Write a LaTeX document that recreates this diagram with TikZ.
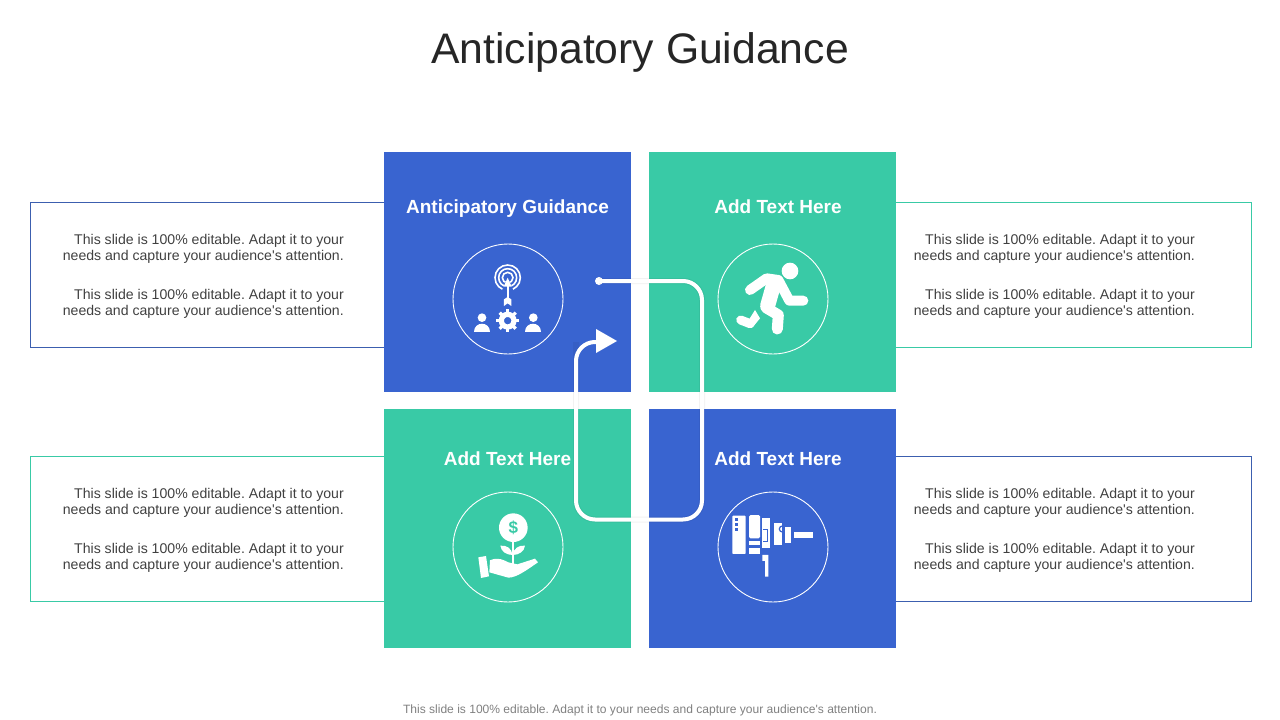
\documentclass[tikz,border=0pt]{standalone}
\usepackage{fontspec}
\setmainfont{Liberation Sans}[Ligatures=TeXOff]
\usetikzlibrary{calc,arrows.meta}
\definecolor{panelblue}{RGB}{57,100,208}
\definecolor{panelgreen}{RGB}{57,202,166}
\definecolor{edgeblue}{RGB}{60,95,175}
\definecolor{bodytext}{RGB}{64,64,64}
\definecolor{titletext}{RGB}{38,38,38}
\definecolor{footgrey}{RGB}{128,128,128}
\tikzset{
  panelbox/.style={fill=#1,draw=none,anchor=north west,minimum width=247,inner sep=0},
  notebox/.style={draw=#1,line width=0.9pt},
  panelhead/.style={font=\fontsize{19}{23}\selectfont\bfseries,text=white,anchor=base},
  notetext/.style={font=\fontsize{14.1}{16}\selectfont,text=bodytext,align=right,anchor=east,inner sep=0},
  iconring/.style={draw=white,line width=0.9pt},
  iconline/.style={draw=white,line cap=round,line join=round},
  flowline/.style={draw=white,line width=4pt},
  flowshade/.style={draw=black,opacity=0.05,line width=6pt},
}
% corner coordinates are in reference pixels
\newcommand{\notepair}[3]{%
  \node[notetext] (#1a) at (#2,#3) {This slide is 100\% editable. Adapt it to your\\needs and capture your audience's attention.};
  \node[notetext] (#1b) at (#2,#3+55) {This slide is 100\% editable. Adapt it to your\\needs and capture your audience's attention.};}
\begin{document}
\frenchspacing
\begin{tikzpicture}[x=1pt,y=-1pt]
  \useasboundingbox (0,0) rectangle (1280,720);
  \node[font=\fontsize{42.7}{50}\selectfont,text=titletext] (title) at (640,52) {Anticipatory Guidance};
  % side boxes
  \draw[notebox=edgeblue] (385,202.5) -- (30.5,202.5) -- (30.5,347.5) -- (385,347.5);
  \draw[notebox=panelgreen] (895,202.5) -- (1251.5,202.5) -- (1251.5,347.5) -- (895,347.5);
  \draw[notebox=panelgreen] (385,456.5) -- (30.5,456.5) -- (30.5,601.5) -- (385,601.5);
  \draw[notebox=edgeblue] (895,456.5) -- (1251.5,456.5) -- (1251.5,601.5) -- (895,601.5);
  \notepair{nw}{344}{249}
  \notepair{ne}{1195}{249}
  \notepair{sw}{344}{503}
  \notepair{se}{1195}{503}
  % panels
  \node[panelbox=panelblue,minimum height=240] (pnw) at (384,152) {};
  \node[panelbox=panelgreen,minimum height=240] (pne) at (649,152) {};
  \node[panelbox=panelgreen,minimum height=239] (psw) at (384,409) {};
  \node[panelbox=panelblue,minimum height=239] (pse) at (649,409) {};
  \node[panelhead] (hnw) at (507.5,213) {Anticipatory Guidance};
  \node[panelhead] (hne) at (778,213) {Add Text Here};
  \node[panelhead] (hsw) at (507.5,465) {Add Text Here};
  \node[panelhead] (hse) at (778,465) {Add Text Here};
  \draw[iconring] (508,299) circle (55);
  \draw[iconring] (773,299) circle (55);
  \draw[iconring] (508,547) circle (55);
  \draw[iconring] (773,547) circle (55);
  % target and team
  \begin{scope}[shift={(440,235)},x=0.3333pt,y=-0.3333pt]
    \draw[white,line width=1.6pt] (203,128) circle (38);
    \draw[white,line width=1.6pt] (203,128) circle (27);
    \draw[white,line width=1.6pt] (203,128) circle (16);
    \fill[panelblue] (203,128) -- (182,175) -- (224,175) -- cycle;
    \draw[white,line width=1.8pt] (203,150) -- (203,195);
    \fill[white] (203,128) -- (215,155) -- (191,155) -- cycle;
    \fill[white] (192,213) -- (192,193) -- (203,186) -- (214,193) -- (214,213) -- (203,205) -- cycle;
    \fill[white] (126,248) circle (13);
    \fill[white] (102,290) .. controls (102,258) and (150,258) .. (150,290) -- cycle;
    \fill[white] (280,248) circle (13);
    \fill[white] (256,290) .. controls (256,258) and (304,258) .. (304,290) -- cycle;
    \foreach \a in {0,45,...,315}{\draw[white,line width=3.2pt] (203,257) ++(\a:22) -- ++(\a:12);}
    \draw[white,line width=5.2pt] (203,257) circle (19);
  \end{scope}
  % runner
  \begin{scope}[shift={(700,235)},x=0.3333pt,y=-0.3333pt]
    \fill[white] (270,108) circle (25);
    \draw[iconline,line width=10pt] (150,165) -- (200,130) -- (235,135) -- (268,197) -- (310,197);
    \draw[iconline,line width=15pt] (222,145) -- (203,212);
    \draw[iconline,line width=11pt] (198,218) -- (235,240) -- (232,282);
    \draw[iconline,line width=9pt] (122,255) -- (150,266);
    \fill[white] (137,270) -- (165,225) -- (180,250) -- (158,277) -- cycle;
  \end{scope}
  % money plant on hand
  \begin{scope}[shift={(440,485)},x=0.3333pt,y=-0.3333pt]
    \fill[white] (220,128) circle (43);
    \node[text=panelgreen,font=\fontsize{17}{17}\selectfont\bfseries] (dollar) at (220,128) {\$};
    \draw[iconline,line width=2pt] (218,165) -- (218,238);
    \fill[white] (218,210) .. controls (200,210) and (183,200) .. (181,182) .. controls (200,180) and (215,190) .. (218,210) -- cycle;
    \fill[white] (218,210) .. controls (236,210) and (253,200) .. (255,182) .. controls (236,180) and (221,190) .. (218,210) -- cycle;
    \fill[white] (115,217) -- (138,213) -- (147,274) -- (123,279) -- cycle;
    \fill[white] (150,226) .. controls (175,215) and (190,225) .. (205,232) -- (232,238) -- (285,221) -- (294,232) .. controls (260,255) and (230,278) .. (205,278) -- (148,262) -- cycle;
  \end{scope}
  % drill
  \begin{scope}[shift={(705,485)},x=0.3333pt,y=-0.3333pt]
    \fill[white,rounded corners=0.8pt] (82,92) rectangle (122,207);
    \foreach \dy in {103,118,133}{\fill[panelblue] (90,\dy-4) rectangle (98,\dy+4);}
    \fill[white,rounded corners=1.5pt] (132,90) rectangle (165,160);
    \fill[white] (132,167) rectangle (165,181);
    \fill[white] (132,190) rectangle (165,207);
    \fill[white] (170,100) rectangle (195,190);
    \draw[panelblue,line width=0.9pt] (174,133) -- (186,133) -- (186,168) -- (174,168);
    \fill[white] (206,115) rectangle (232,180);
    \draw[panelblue,line width=1.2pt] (232,141) arc[start angle=90,end angle=270,radius=9];
    \fill[white] (240,127) rectangle (258,175);
    \fill[white] (266,141) rectangle (323,158);
    \fill[white] (172,210) -- (190,210) -- (190,275) -- (180,275) -- (180,228) -- (172,228) -- cycle;
  \end{scope}
  % flow arrow
  \node[circle,fill=white,inner sep=0,minimum size=8] (flowdot) at (599,281) {};
  \coordinate (flowne) at (702,281);
  \coordinate (flowse) at (702,519.5);
  \coordinate (flowsw) at (576,519.5);
  \coordinate (flownw) at (576,342);
  \coordinate (flowend) at (598,342);
  \coordinate (flowtip) at (617,341);
  \draw[flowshade,rounded corners=19,shift={(0,1.5)}] (flowdot.center) -- (flowne) -- (flowse) -- (flowsw) -- (flownw);
  \draw[flowline,rounded corners=19] (flowdot.center) -- (flowne) -- (flowse) -- (flowsw) -- (flownw) -- (flowend);
  \fill[white] (flowtip) -- (596,329) -- (596,353) -- cycle;
  \node[font=\fontsize{12.05}{14}\selectfont,text=footgrey] (foot) at (640,710) {This slide is 100\% editable. Adapt it to your needs and capture your audience's attention.};
\end{tikzpicture}
\end{document}
